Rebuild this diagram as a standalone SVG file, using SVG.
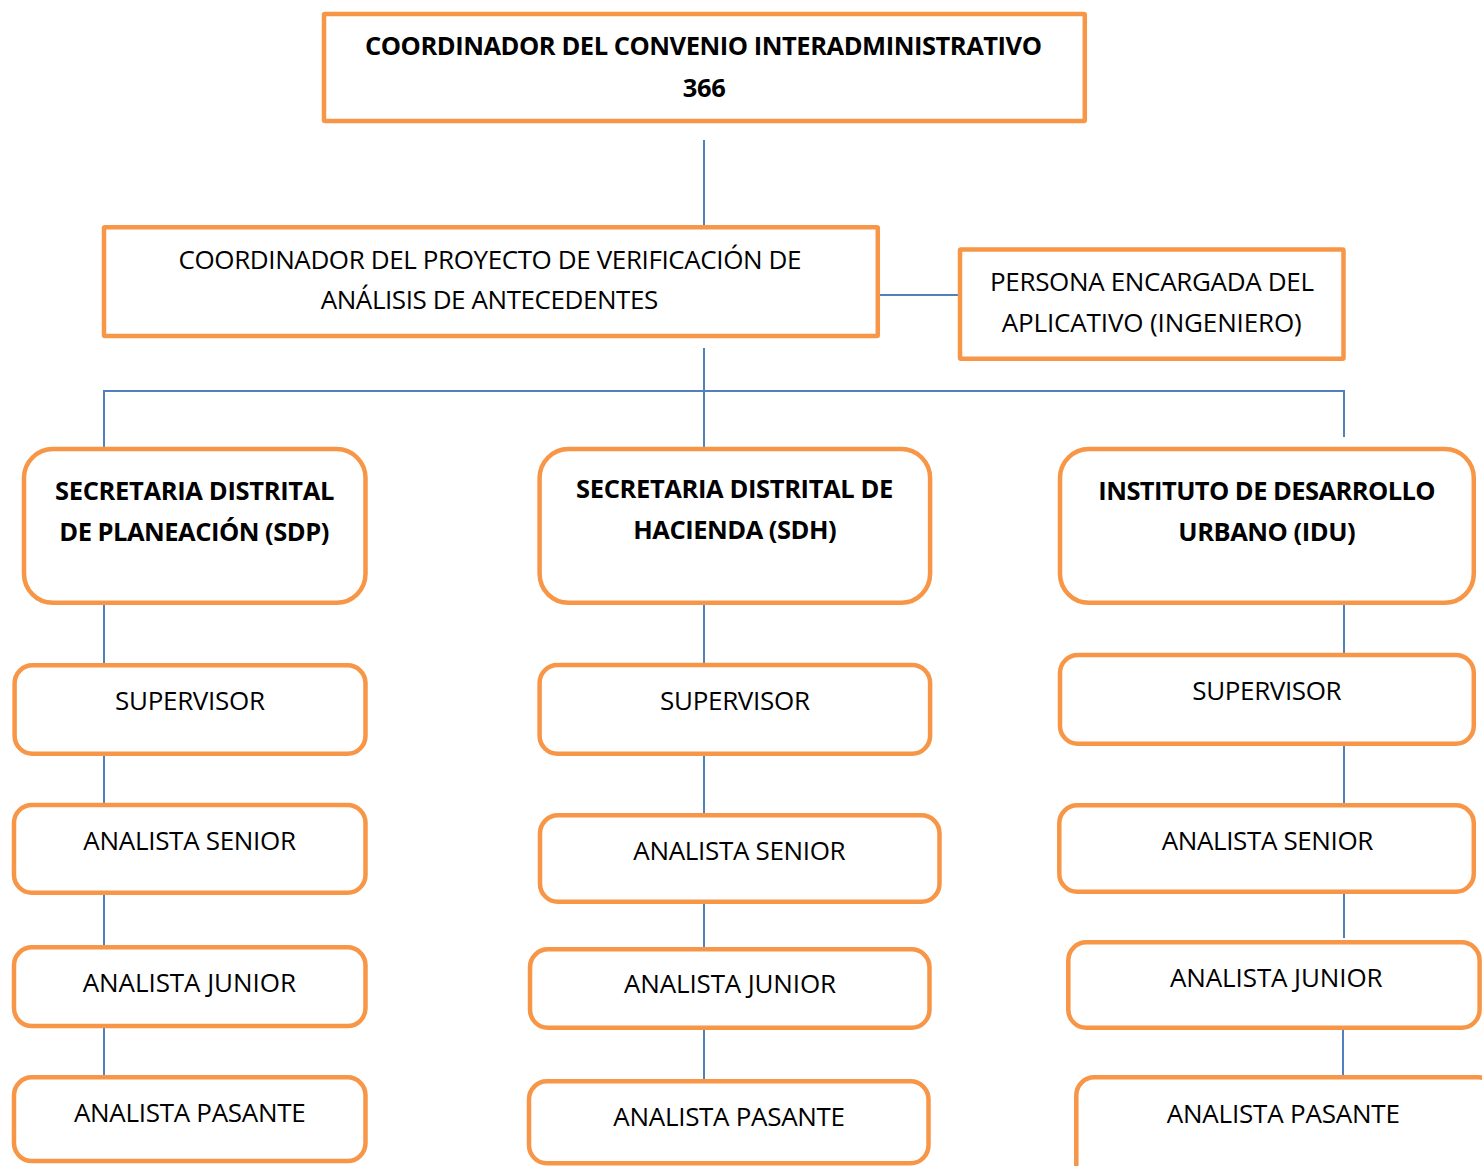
<svg xmlns="http://www.w3.org/2000/svg" width="1482" height="1166" viewBox="0 0 1482 1166">
<style>
.box{fill:#FFFFFF;stroke:#F79646;stroke-width:4.5}
.ln{stroke:#4F81BD;stroke-width:2;fill:none}
text{font-family:"Open Sans","Liberation Sans",sans-serif;font-size:26px;fill:#000000;text-anchor:middle}
.b{font-weight:bold;font-size:25.5px}
</style>
<rect width="1482" height="1166" fill="#FFFFFF"/>
<g id="connectors">
<line class="ln" x1="704" y1="140" x2="704" y2="225"/>
<line class="ln" x1="879" y1="295" x2="959" y2="295"/>
<line class="ln" x1="704" y1="348" x2="704" y2="448"/>
<line class="ln" x1="103" y1="391" x2="1345" y2="391"/>
<line class="ln" x1="104" y1="391" x2="104" y2="448"/>
<line class="ln" x1="1344" y1="391" x2="1344" y2="437"/>
<line class="ln" x1="104" y1="604" x2="104" y2="664"/>
<line class="ln" x1="104" y1="755" x2="104" y2="804"/>
<line class="ln" x1="104" y1="894" x2="104" y2="946"/>
<line class="ln" x1="104" y1="1027" x2="104" y2="1076"/>
<line class="ln" x1="704" y1="604" x2="704" y2="664"/>
<line class="ln" x1="704" y1="755" x2="704" y2="814"/>
<line class="ln" x1="704" y1="903" x2="704" y2="948"/>
<line class="ln" x1="704" y1="1029" x2="704" y2="1080"/>
<line class="ln" x1="1344" y1="604" x2="1344" y2="654"/>
<line class="ln" x1="1344" y1="745" x2="1344" y2="804"/>
<line class="ln" x1="1344" y1="893" x2="1344" y2="938"/>
<line class="ln" x1="1343" y1="1029" x2="1343" y2="1076"/>
</g>
<g id="coordinador-convenio">
<rect class="box" x="324" y="14" width="760.8" height="107.1" rx="1"/>
<text class="b" x="703.5" y="55" textLength="677">COORDINADOR DEL CONVENIO INTERADMINISTRATIVO</text>
<text class="b" x="704.3" y="96.7" textLength="43.3">366</text>
</g>
<g id="coordinador-proyecto">
<rect class="box" x="104" y="227.3" width="773.8" height="108.8" rx="1"/>
<text x="490" y="269" textLength="623">COORDINADOR DEL PROYECTO DE VERIFICACIÓN DE</text>
<text x="489.5" y="309" textLength="337.6">ANÁLISIS DE ANTECEDENTES</text>
</g>
<g id="persona-encargada">
<rect class="box" x="960" y="249.6" width="383.5" height="109.2" rx="1"/>
<text x="1152" y="290.7" textLength="324">PERSONA ENCARGADA DEL</text>
<text x="1151.7" y="331.7" textLength="300">APLICATIVO (INGENIERO)</text>
</g>
<g id="sdp">
<rect class="box" x="24" y="449" width="341.5" height="153.8" rx="29"/>
<text class="b" x="194.7" y="500" textLength="279.3">SECRETARIA DISTRITAL</text>
<text class="b" x="194.3" y="541" textLength="270">DE PLANEACIÓN (SDP)</text>
</g>
<g id="sdh">
<rect class="box" x="539.6" y="449" width="390.5" height="153.8" rx="29"/>
<text class="b" x="734.7" y="498" textLength="317.3">SECRETARIA DISTRITAL DE</text>
<text class="b" x="735" y="539" textLength="203.3">HACIENDA (SDH)</text>
</g>
<g id="idu">
<rect class="box" x="1060" y="449" width="413.8" height="153.8" rx="29"/>
<text class="b" x="1267" y="500" textLength="337.3">INSTITUTO DE DESARROLLO</text>
<text class="b" x="1267" y="541" textLength="177.3">URBANO (IDU)</text>
</g>
<g id="sdp-supervisor">
<rect class="box" x="14.6" y="665.3" width="350.9" height="88.5" rx="18"/>
<text x="190" y="710" textLength="150">SUPERVISOR</text>
</g>
<g id="sdp-senior">
<rect class="box" x="14" y="805" width="351.5" height="87.8" rx="18"/>
<text x="189.7" y="850" textLength="212.7">ANALISTA SENIOR</text>
</g>
<g id="sdp-junior">
<rect class="box" x="14" y="947.3" width="351.5" height="78.8" rx="18"/>
<text x="189.3" y="991.7" textLength="213.3">ANALISTA JUNIOR</text>
</g>
<g id="sdp-pasante">
<rect class="box" x="14" y="1077.3" width="351.5" height="83.8" rx="18"/>
<text x="189.8" y="1122.3" textLength="231.7">ANALISTA PASANTE</text>
</g>
<g id="sdh-supervisor">
<rect class="box" x="539.6" y="665" width="390.5" height="88.8" rx="18"/>
<text x="735" y="710" textLength="150">SUPERVISOR</text>
</g>
<g id="sdh-senior">
<rect class="box" x="540" y="815.3" width="399.5" height="86.5" rx="18"/>
<text x="739.5" y="860" textLength="212.3">ANALISTA SENIOR</text>
</g>
<g id="sdh-junior">
<rect class="box" x="530" y="949.3" width="399.5" height="78.5" rx="18"/>
<text x="730" y="993" textLength="212">ANALISTA JUNIOR</text>
</g>
<g id="sdh-pasante">
<rect class="box" x="529" y="1081.3" width="399.5" height="82" rx="18"/>
<text x="729.2" y="1125.7" textLength="231.7">ANALISTA PASANTE</text>
</g>
<g id="idu-supervisor">
<rect class="box" x="1060" y="655" width="413.8" height="88.8" rx="18"/>
<text x="1267" y="700" textLength="149.3">SUPERVISOR</text>
</g>
<g id="idu-senior">
<rect class="box" x="1059.3" y="805.3" width="414.5" height="86.5" rx="18"/>
<text x="1267.5" y="850" textLength="211.7">ANALISTA SENIOR</text>
</g>
<g id="idu-junior">
<rect class="box" x="1068.3" y="942.3" width="411.3" height="85.5" rx="18"/>
<text x="1276.3" y="987" textLength="212.7">ANALISTA JUNIOR</text>
</g>
<g id="idu-pasante">
<rect class="box" x="1076.3" y="1077.3" width="420" height="120" rx="18"/>
<text x="1283.3" y="1123" textLength="233.3">ANALISTA PASANTE</text>
</g>
</svg>
